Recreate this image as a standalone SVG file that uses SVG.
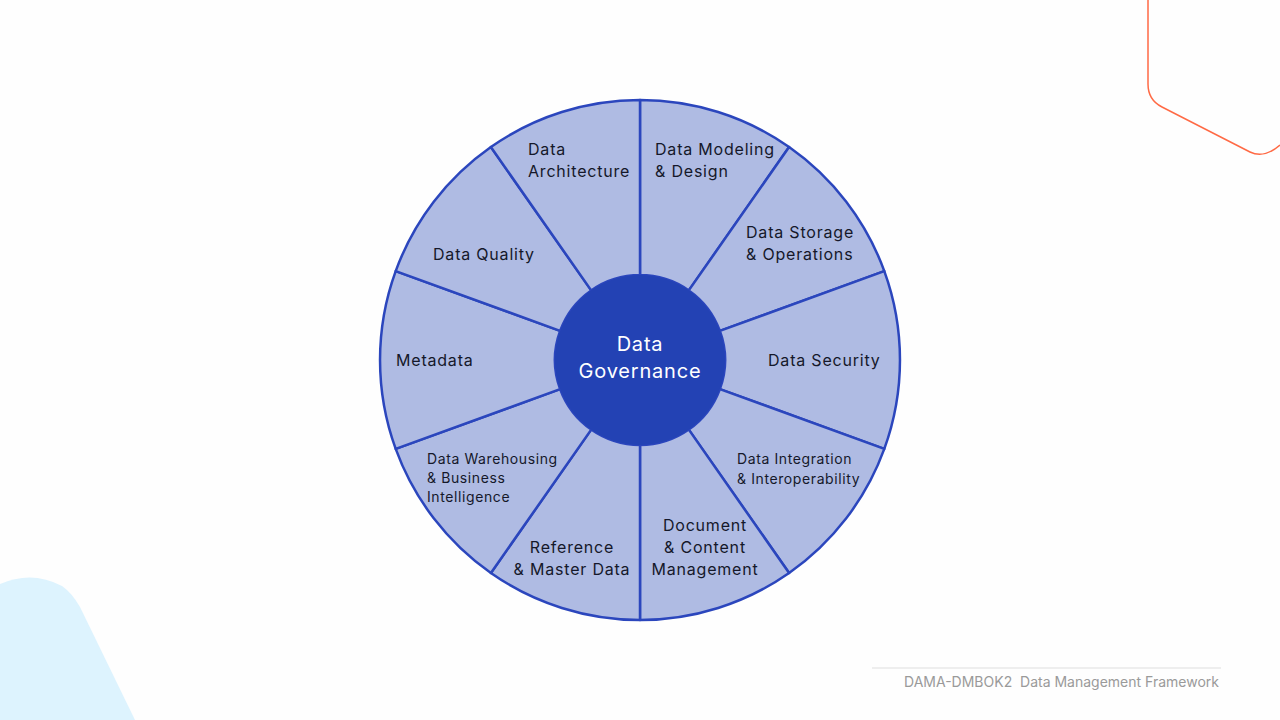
<svg xmlns="http://www.w3.org/2000/svg" width="1280" height="720" viewBox="0 0 1280 720">
<style>
.wedge{fill:#afbbe3;stroke:#2b46bd;stroke-width:2.5;stroke-linejoin:round}
.lbl{font-family:Inter,"DejaVu Sans",sans-serif;font-size:16px;fill:#15182a;letter-spacing:0.8px}
.sm{font-size:14px;letter-spacing:0.6px}
.mid{text-anchor:middle}
.hub{font-family:Inter,"DejaVu Sans",sans-serif;font-size:20px;fill:#ffffff;text-anchor:middle;letter-spacing:0.8px}
.foot{font-family:Inter,"Liberation Sans",sans-serif;font-size:14px;fill:#9a9a9a;text-anchor:end}
</style>
<rect width="1280" height="720" fill="#fefefe"/>
<path d="M0,720 L0,584 Q32,570 62,586 Q72,593 80,607 L135,720 Z" fill="#ddf3fe"/>
<path d="M1148,0 L1148,84 Q1148,100 1162,107 L1250,152 Q1264,159 1280,145" fill="none" stroke="#ff6a45" stroke-width="1.5"/>
<g id="connectors"></g>
<g id="n-modeling"><path class="wedge" d="M640,100 A260,260 0 0 1 789.1,147.0 L688.8,290.4 A85,85 0 0 0 640,275 Z"/><text class="lbl" x="655" y="155">Data Modeling</text><text class="lbl" x="655" y="177">&amp; Design</text></g>
<g id="n-storage"><path class="wedge" d="M789.1,147.0 A260,260 0 0 1 884.3,271.1 L719.9,330.9 A85,85 0 0 0 688.8,290.4 Z"/><text class="lbl" x="746" y="238">Data Storage</text><text class="lbl" x="746" y="260">&amp; Operations</text></g>
<g id="n-security"><path class="wedge" d="M884.3,271.1 A260,260 0 0 1 884.3,448.9 L719.9,389.1 A85,85 0 0 0 719.9,330.9 Z"/><text class="lbl" x="768" y="366">Data Security</text></g>
<g id="n-integration"><path class="wedge" d="M884.3,448.9 A260,260 0 0 1 789.1,573.0 L688.8,429.6 A85,85 0 0 0 719.9,389.1 Z"/><text class="lbl sm" x="737" y="464">Data Integration</text><text class="lbl sm" x="737" y="484">&amp; Interoperability</text></g>
<g id="n-document"><path class="wedge" d="M789.1,573.0 A260,260 0 0 1 640,620 L640,445 A85,85 0 0 0 688.8,429.6 Z"/><text class="lbl mid" x="705" y="531">Document</text><text class="lbl mid" x="705" y="553">&amp; Content</text><text class="lbl mid" x="705" y="575">Management</text></g>
<g id="n-reference"><path class="wedge" d="M640,620 A260,260 0 0 1 490.9,573.0 L591.2,429.6 A85,85 0 0 0 640,445 Z"/><text class="lbl mid" x="572" y="553">Reference</text><text class="lbl mid" x="572" y="575">&amp; Master Data</text></g>
<g id="n-warehousing"><path class="wedge" d="M490.9,573.0 A260,260 0 0 1 395.7,448.9 L560.1,389.1 A85,85 0 0 0 591.2,429.6 Z"/><text class="lbl sm" x="427" y="464">Data Warehousing</text><text class="lbl sm" x="427" y="483">&amp; Business</text><text class="lbl sm" x="427" y="502">Intelligence</text></g>
<g id="n-metadata"><path class="wedge" d="M395.7,448.9 A260,260 0 0 1 395.7,271.1 L560.1,330.9 A85,85 0 0 0 560.1,389.1 Z"/><text class="lbl" x="396" y="366">Metadata</text></g>
<g id="n-quality"><path class="wedge" d="M395.7,271.1 A260,260 0 0 1 490.9,147.0 L591.2,290.4 A85,85 0 0 0 560.1,330.9 Z"/><text class="lbl" x="433" y="260">Data Quality</text></g>
<g id="n-architecture"><path class="wedge" d="M490.9,147.0 A260,260 0 0 1 640,100 L640,275 A85,85 0 0 0 591.2,290.4 Z"/><text class="lbl" x="528" y="155">Data</text><text class="lbl" x="528" y="177">Architecture</text></g>
<g id="n-governance"><circle cx="640" cy="360" r="85" fill="#2342b4"/><text class="hub" x="640" y="351">Data</text><text class="hub" x="640" y="378">Governance</text></g>
<g id="footer"><line x1="872" y1="668" x2="1221" y2="668" stroke="#dedede" stroke-width="1"/><text class="foot" x="1219" y="687" xml:space="preserve">DAMA-DMBOK2  Data Management Framework</text></g>
</svg>
